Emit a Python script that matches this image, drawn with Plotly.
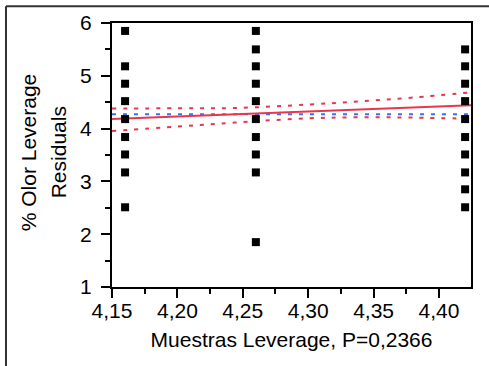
import plotly.graph_objects as go

# Data
x_left = [4.16] * 9
y_left = [5.85, 5.18, 4.85, 4.52, 4.18, 3.84, 3.51, 3.17, 2.51]
x_mid = [4.26] * 10
y_mid = [5.85, 5.50, 5.18, 4.85, 4.52, 4.18, 3.84, 3.51, 3.17, 1.85]
x_right = [4.42] * 10
y_right = [5.50, 5.18, 4.85, 4.52, 4.18, 3.84, 3.51, 3.17, 2.85, 2.51]

fit_x = [4.15, 4.4245]
fit_y = [4.182, 4.441]
mean_y = [4.271, 4.271]

band_x = [4.15, 4.20, 4.244, 4.30, 4.341, 4.38, 4.4245]
band_upper = [4.379, 4.385, 4.390, 4.455, 4.517, 4.587, 4.688]
band_lower = [3.955, 4.040, 4.114, 4.195, 4.214, 4.208, 4.186]

x_ticks = [4.15, 4.20, 4.25, 4.30, 4.35, 4.40]
x_ticklabels = ["4,15", "4,20", "4,25", "4,30", "4,35", "4,40"]
y_ticks = [1, 2, 3, 4, 5, 6]

RED = "#e8364e"
BLUE = "#3d6ff0"
FONT = "Liberation Sans, Arial, sans-serif"
FS = 21

fig = go.Figure()
fig.add_trace(go.Scatter(x=band_x, y=band_upper, mode="lines",
                         line=dict(color=RED, width=2, dash="4px,7px", shape="spline")))
fig.add_trace(go.Scatter(x=band_x, y=band_lower, mode="lines",
                         line=dict(color=RED, width=2, dash="4px,7px", shape="spline")))
fig.add_trace(go.Scatter(x=fit_x, y=mean_y, mode="lines",
                         line=dict(color=BLUE, width=2, dash="4px,7px")))
fig.add_trace(go.Scatter(x=fit_x, y=fit_y, mode="lines",
                         line=dict(color=RED, width=2)))
for xs, ys in [(x_left, y_left), (x_mid, y_mid), (x_right, y_right)]:
    fig.add_trace(go.Scatter(x=xs, y=ys, mode="markers",
                             marker=dict(symbol="square", size=8, color="black",
                                         line=dict(width=0))))

fig.update_layout(
    width=489, height=366,
    margin=dict(l=112, r=18, t=23, b=79),
    paper_bgcolor="white", plot_bgcolor="white",
    showlegend=False,
    font=dict(family=FONT, size=FS, color="black"),
    xaxis=dict(range=[4.15, 4.4245], tickvals=x_ticks, ticktext=x_ticklabels,
               showgrid=False, zeroline=False, showline=True, linecolor="black",
               linewidth=2, mirror=True, ticks="outside", ticklen=9, tickwidth=2,
               tickcolor="black", ticklabelstandoff=-5,
               minor=dict(dtick=0.025, tick0=4.15, ticks="outside", ticklen=5,
                          tickwidth=2, tickcolor="black"),
               tickfont=dict(size=FS),
               title=dict(text="Muestras Leverage, P=0,2366", font=dict(size=FS), standoff=11)),
    yaxis=dict(range=[1, 6], tickvals=y_ticks,
               showgrid=False, zeroline=False, showline=True, linecolor="black",
               linewidth=2, mirror=True, ticks="outside", ticklen=9, tickwidth=2,
               tickcolor="black", ticklabelstandoff=5,
               minor=dict(dtick=0.5, tick0=1, ticks="outside", ticklen=5,
                          tickwidth=2, tickcolor="black"),
               tickfont=dict(size=FS)),
)

# Y-axis title, two lines
fig.add_annotation(text="% Olor Leverage", xref="paper", yref="paper",
                   x=(28 - 112) / 359, y=(286.7 - 152) / 264, textangle=-90,
                   showarrow=False, font=dict(size=FS), xanchor="center", yanchor="middle")
fig.add_annotation(text="Residuals", xref="paper", yref="paper",
                   x=(58 - 112) / 359, y=(286.7 - 152) / 264, textangle=-90,
                   showarrow=False, font=dict(size=FS), xanchor="center", yanchor="middle")

# Outer frame (left and top edges)
fig.add_shape(type="line", xref="paper", yref="paper",
              x0=(6 - 112) / 359, x1=(6 - 112) / 359,
              y0=(286.7 - 6) / 264, y1=(286.7 - 380) / 264,
              line=dict(color="#333333", width=2))
fig.add_shape(type="line", xref="paper", yref="paper",
              x0=(6 - 112) / 359, x1=(500 - 112) / 359,
              y0=(286.7 - 6) / 264, y1=(286.7 - 6) / 264,
              line=dict(color="#333333", width=2))

fig.write_html("out.html")
